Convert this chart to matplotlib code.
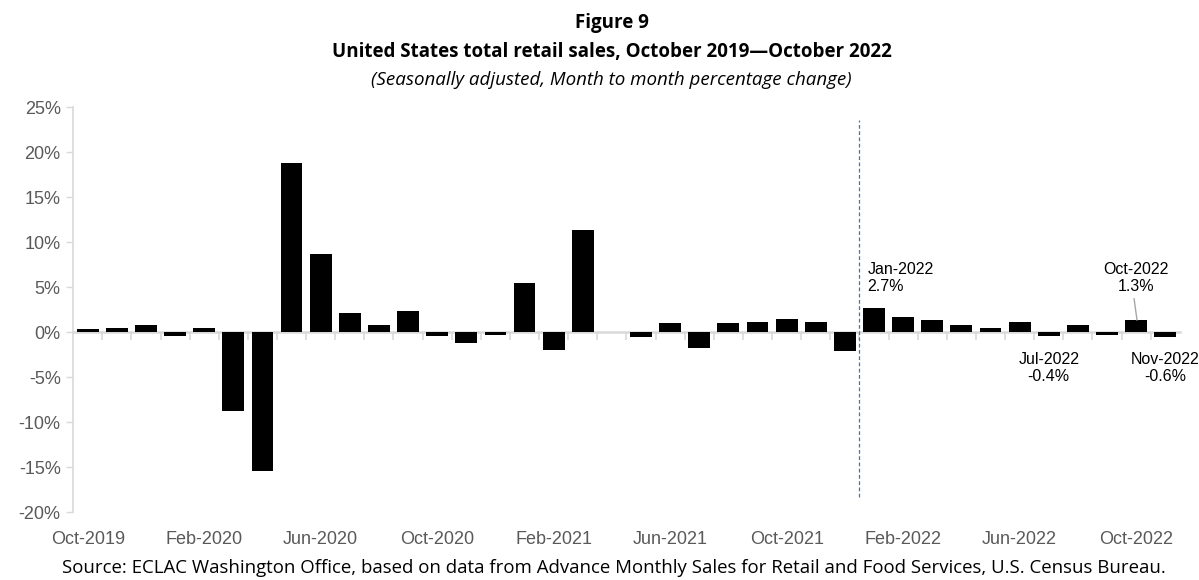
import matplotlib
matplotlib.use("Agg")
import matplotlib.pyplot as plt
import numpy as np

# months Oct-2019 .. Nov-2022
months = ['Oct-2019', 'Nov-2019', 'Dec-2019',
          'Jan-2020', 'Feb-2020', 'Mar-2020', 'Apr-2020', 'May-2020', 'Jun-2020',
          'Jul-2020', 'Aug-2020', 'Sep-2020', 'Oct-2020', 'Nov-2020', 'Dec-2020',
          'Jan-2021', 'Feb-2021', 'Mar-2021', 'Apr-2021', 'May-2021', 'Jun-2021',
          'Jul-2021', 'Aug-2021', 'Sep-2021', 'Oct-2021', 'Nov-2021', 'Dec-2021',
          'Jan-2022', 'Feb-2022', 'Mar-2022', 'Apr-2022', 'May-2022', 'Jun-2022',
          'Jul-2022', 'Aug-2022', 'Sep-2022', 'Oct-2022', 'Nov-2022']
pct_change = [0.3, 0.4, 0.8,
              -0.4, 0.4, -8.8, -15.4, 18.8, 8.7,
              2.1, 0.8, 2.3, -0.4, -1.2, -0.3,
              5.5, -2.0, 11.3, 0.0, -0.6, 1.0,
              -1.8, 1.0, 1.1, 1.4, 1.1, -2.1,
              2.7, 1.7, 1.3, 0.8, 0.4, 1.1,
              -0.4, 0.8, -0.3, 1.3, -0.6]
label_every = 4
y_ticks = [-20, -15, -10, -5, 0, 5, 10, 15, 20, 25]

# labelled months: (month, text, above?)
callouts = [('Jan-2022', 'Jan-2022\n2.7%', True),
            ('Oct-2022', 'Oct-2022\n1.3%', True),
            ('Jul-2022', 'Jul-2022\n-0.4%', False),
            ('Nov-2022', 'Nov-2022\n-0.6%', False)]

grey = '#d9d9d9'
txt = '#595959'

fig = plt.figure(figsize=(11.99, 5.8), dpi=100)
ax = fig.add_axes([0.061, 0.117, 0.923, 0.6985])

x = np.arange(len(months))
ax.bar(x, pct_change, width=0.75, color='black', zorder=3)

ax.set_xlim(-0.5, len(months) - 0.5)
ax.set_ylim(-20, 25)
ax.set_yticks(y_ticks)
ax.set_yticklabels([f'{v}%' for v in y_ticks], fontsize=13, color=txt,
                   family='Liberation Sans')
ax.tick_params(axis='y', length=5, color=grey, width=1, pad=4)

for s in ['top', 'right']:
    ax.spines[s].set_visible(False)
ax.spines['left'].set_color(grey)
ax.spines['left'].set_linewidth(1.2)
ax.spines['bottom'].set_position(('data', 0))
ax.spines['bottom'].set_color(grey)
ax.spines['bottom'].set_linewidth(1.8)
ax.spines['bottom'].set_zorder(2)

# ticks on category boundaries, labels at the bottom of the plot
ax.set_xticks(x[:-1] + 0.5, minor=True)
ax.set_xticks([])
ax.tick_params(axis='x', which='minor', length=6, color=grey, width=1.2)
for i in range(0, len(months), label_every):
    ax.text(i, -0.068, months[i], transform=ax.get_xaxis_transform(),
            ha='center', va='center', fontsize=13, color=txt,
            family='Liberation Sans')

# dashed separator before 2022
ax.vlines(months.index('Jan-2022') - 0.5, -18.3, 23.6, colors='#4472c4',
          linestyles=(0, (3, 2)), linewidth=0.9, zorder=4)

for m, t, up in callouts:
    i = months.index(m)
    if m == 'Jan-2022':
        ax.text(i - 0.22, 6.0, t, ha='left', va='center', fontsize=11.5,
                family='Liberation Sans', linespacing=1.15, clip_on=False)
    else:
        ax.text(i, 6.0 if up else -4.0, t, ha='center', va='center',
                fontsize=11.5, family='Liberation Sans', linespacing=1.15,
                clip_on=False)
    if m == 'Oct-2022':
        ax.plot([i - 0.07, i + 0.03], [3.7, pct_change[i] + 0.05],
                color='#a6a6a6', linewidth=1, zorder=4)

fig.text(0.51, 0.96, 'Figure 9', ha='center', va='center', fontsize=13.5,
         fontweight='bold', family='Open Sans')
fig.text(0.51, 0.911, 'United States total retail sales, October 2019\u2014October 2022',
         ha='center', va='center', fontsize=13.5, fontweight='bold',
         family='Open Sans')
fig.text(0.51, 0.862, '(Seasonally adjusted, Month to month percentage change)',
         ha='center', va='center', fontsize=13.5, style='italic',
         family='Open Sans')
fig.text(0.512, 0.02, 'Source: ECLAC Washington Office, based on data from Advance '
         'Monthly Sales for Retail and Food Services, U.S. Census Bureau.',
         ha='center', va='center', fontsize=13.4, family='Open Sans')

fig.savefig('out.png', dpi=100)
